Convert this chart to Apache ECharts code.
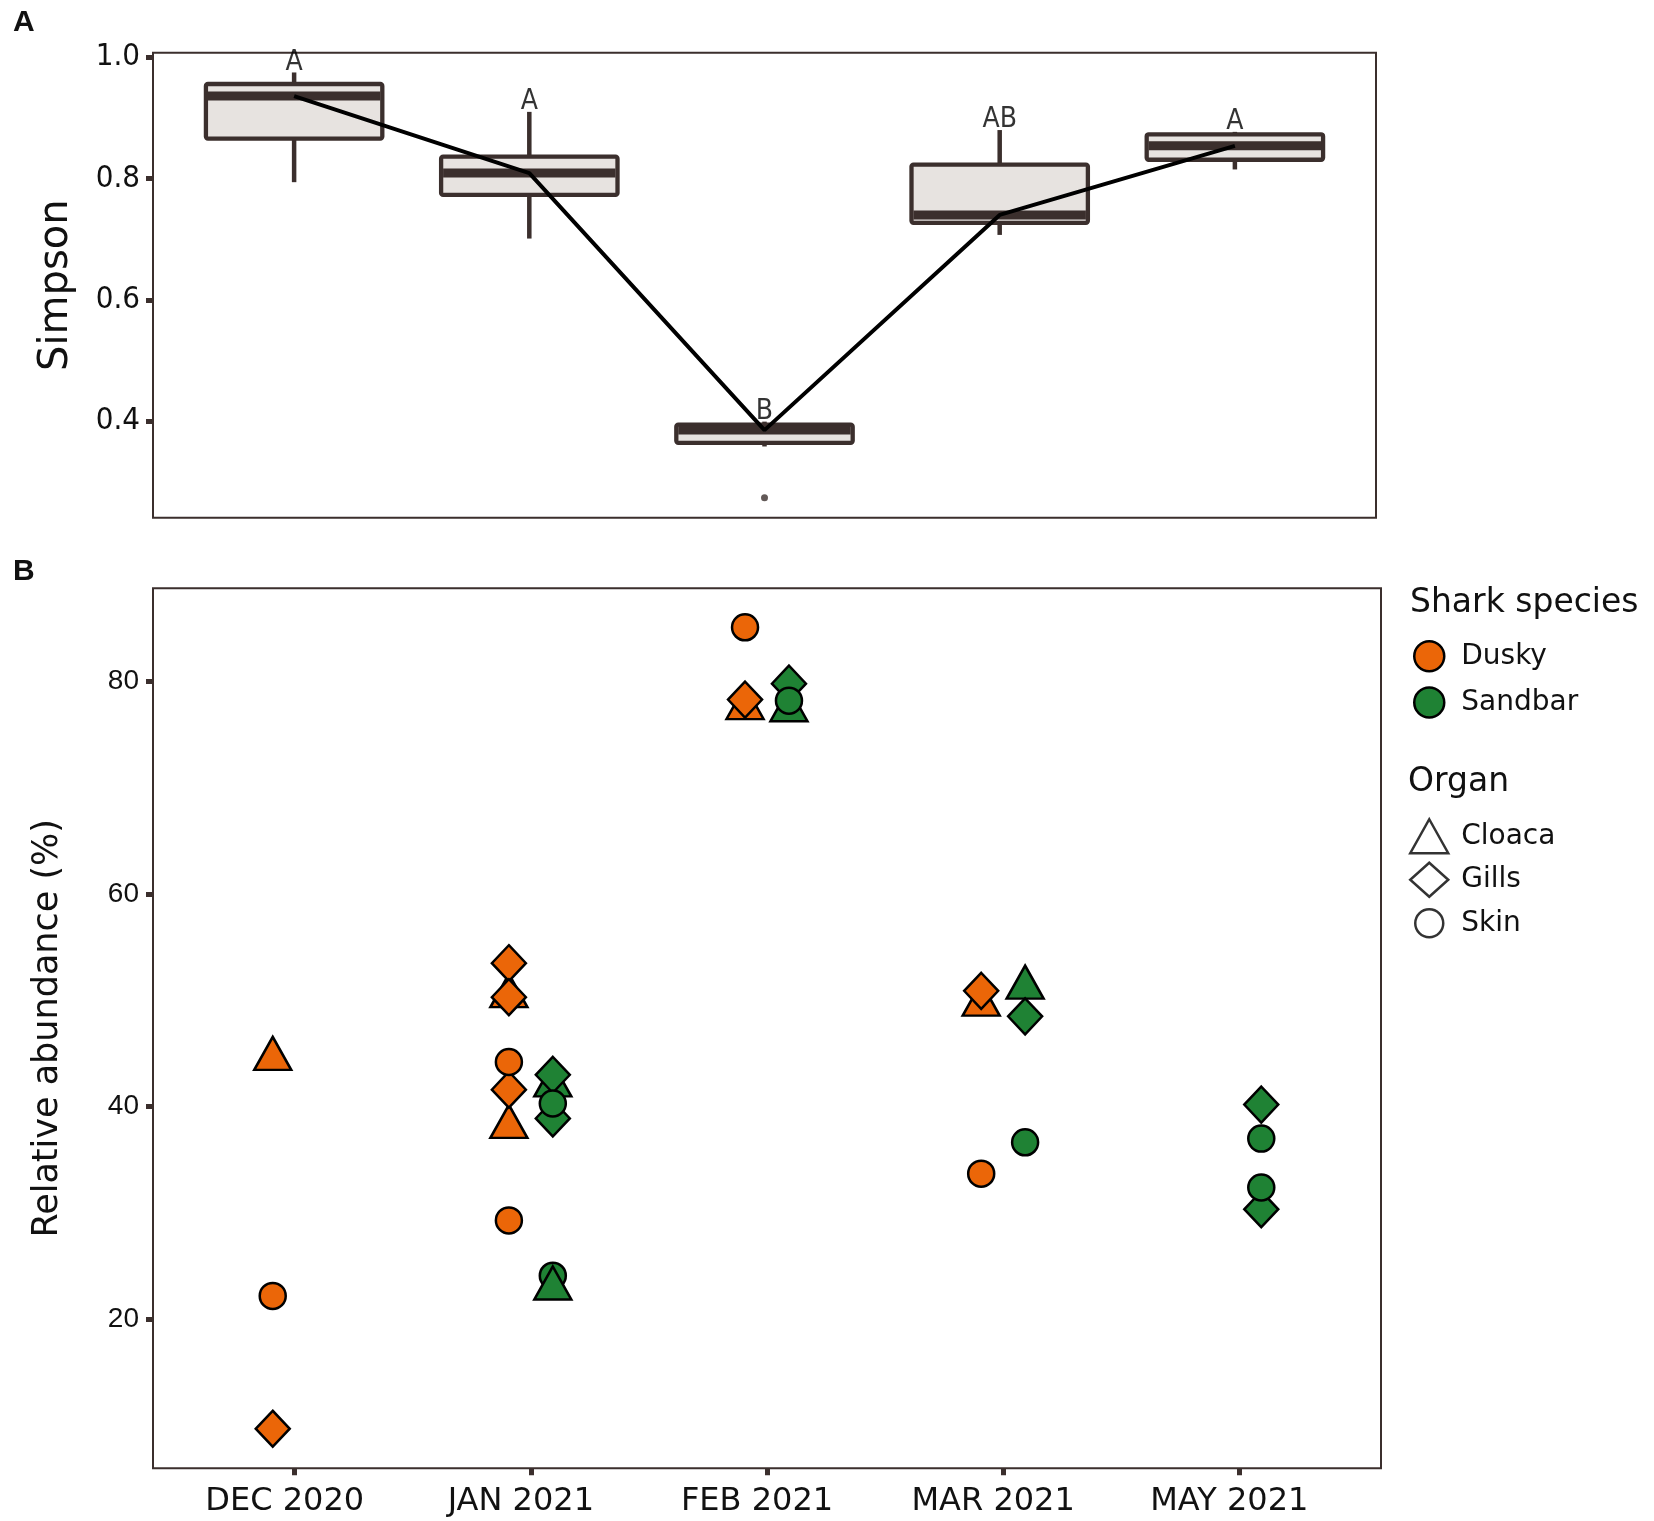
<!DOCTYPE html>
<html>
<head>
<meta charset="utf-8">
<title>Simpson diversity and relative abundance</title>
<script src="https://cdn.jsdelivr.net/npm/echarts@6/dist/echarts.min.js"></script>
<style>
  html, body { margin: 0; padding: 0; background: #fff; }
  #chart { width: 1654px; height: 1521px; }
</style>
</head>
<body>
<div id="chart"></div>
<script>
"use strict";

/* ---------- data ---------- */
const MONTHS = ["DEC 2020", "JAN 2021", "FEB 2021", "MAR 2021", "MAY 2021"];

// panel A: Simpson index box plots
const simpsonLower  = [0.794, 0.701, 0.358, 0.707, 0.815];
const simpsonQ1     = [0.866, 0.773, 0.364, 0.727, 0.831];
const simpsonMedian = [0.936, 0.809, 0.385, 0.740, 0.854];
const simpsonQ3     = [0.956, 0.836, 0.394, 0.823, 0.873];
const simpsonUpper  = [0.975, 0.910, 0.399, 0.880, 0.877];
const simpsonOutliers = [["FEB 2021", 0.2735]];
const simpsonLetters  = ["A", "A", "B", "AB", "A"];

// panel B: relative abundance (%), rows in drawing order [month, organ, value]
const duskyPoints = [
  ["DEC 2020", "Cloaca", 44.5],
  ["JAN 2021", "Cloaca", 50.4],
  ["JAN 2021", "Cloaca", 38.1],
  ["FEB 2021", "Cloaca", 77.5],
  ["MAR 2021", "Cloaca", 49.6],
  ["DEC 2020", "Gills", 9.7],
  ["JAN 2021", "Gills", 53.5],
  ["JAN 2021", "Gills", 50.3],
  ["JAN 2021", "Gills", 41.6],
  ["FEB 2021", "Gills", 78.3],
  ["MAR 2021", "Gills", 50.9],
  ["DEC 2020", "Skin", 22.2],
  ["JAN 2021", "Skin", 44.2],
  ["JAN 2021", "Skin", 29.3],
  ["FEB 2021", "Skin", 85.1],
  ["MAR 2021", "Skin", 33.7]
];
const sandbarPoints = [
  ["JAN 2021", "Cloaca", 42.0],
  ["FEB 2021", "Cloaca", 77.3],
  ["MAR 2021", "Cloaca", 51.2],
  ["JAN 2021", "Gills", 43.0],
  ["JAN 2021", "Gills", 38.9],
  ["FEB 2021", "Gills", 79.8],
  ["MAR 2021", "Gills", 48.5],
  ["MAY 2021", "Gills", 40.2],
  ["MAY 2021", "Gills", 30.35],
  ["JAN 2021", "Skin", 40.3],
  ["JAN 2021", "Skin", 24.1],
  ["FEB 2021", "Skin", 78.2],
  ["MAR 2021", "Skin", 36.65],
  ["MAY 2021", "Skin", 37.0],
  ["MAY 2021", "Skin", 32.4],
  ["JAN 2021", "Cloaca", 22.9]
];

const A_TICKS = [0.4, 0.6, 0.8, 1.0];
const B_TICKS = [20, 40, 60, 80];

/* ---------- style ---------- */
const INK = "#111111";
const FRAME = "#3b2f2d";
const BOX_FILL = "#e7e3e0";
const DUSKY = "#eb6608";
const SANDBAR = "#1f8234";
const VERDANA = "'DejaVu Sans', Verdana, sans-serif";
const ARIAL = "'Liberation Sans', Arial, sans-serif";
const NARROW = "'Liberation Sans Narrow', 'DejaVu Sans Condensed', 'Liberation Sans', sans-serif";
const BOX_WIDTH = 0.75;   // in category units
const DODGE = 0.093;      // species offset in category units
const SHAPES = {
  Cloaca: { symbol: "triangle", size: [37, 33] },
  Gills:  { symbol: "diamond",  size: [34, 36] },
  Skin:   { symbol: "circle",   size: 26 }
};
// legend circle: invisible corner moves keep the drawn circle at point size
const SKIN_LEGEND_ICON = "path://M0,0M38,34M5,17a14,14 0 1,0 28,0a14,14 0 1,0 -28,0z";

const monthIdx = m => MONTHS.indexOf(m);

function pointItems(rows, offset) {
  return rows.map(([m, organ, v]) => {
    const s = SHAPES[organ];
    return {
      value: [monthIdx(m) + offset, v],
      symbol: s.symbol,
      symbolSize: s.size,
      // R draws triangles around their centroid, echarts around the bbox centre
      symbolOffset: organ === "Cloaca" ? [0, -s.size[1] / 6] : [0, 0]
    };
  });
}

function renderBox(params, api) {
  const i = api.value(0);
  const x = api.coord([i, api.value(2)])[0];
  const yLo = api.coord([i, api.value(1)])[1];
  const yQ1 = api.coord([i, api.value(2)])[1];
  const yMed = api.coord([i, api.value(3)])[1];
  const yQ3 = api.coord([i, api.value(4)])[1];
  const yHi = api.coord([i, api.value(5)])[1];
  const half = api.size([BOX_WIDTH, 0])[0] / 2;
  const whisker = { stroke: FRAME, lineWidth: 4.5 };
  return {
    type: "group",
    children: [
      { type: "line", shape: { x1: x, y1: yHi, x2: x, y2: yQ3 }, style: whisker },
      { type: "line", shape: { x1: x, y1: yQ1, x2: x, y2: yLo }, style: whisker },
      { type: "rect", shape: { x: x - half, y: yQ3, width: 2 * half, height: yQ1 - yQ3, r: 2 },
        style: { fill: BOX_FILL, stroke: FRAME, lineWidth: 4.3 } },
      { type: "line", shape: { x1: x - half + 2, y1: yMed, x2: x + half - 2, y2: yMed },
        style: { stroke: FRAME, lineWidth: 9 } }
    ]
  };
}

const tickStyle = { show: true, inside: false, length: 7, lineStyle: { color: FRAME, width: 5 } };
const noLine = { show: false, onZero: false };

const chart = echarts.init(document.getElementById("chart"), null, { renderer: "canvas" });
chart.setOption({
  animation: false,
  backgroundColor: "#fff",
  title: [
    { text: "A", left: 13, top: 8, padding: 0,
      textStyle: { fontFamily: ARIAL, fontWeight: "bold", fontSize: 30, color: INK } },
    { text: "B", left: 13, top: 557, padding: 0,
      textStyle: { fontFamily: ARIAL, fontWeight: "bold", fontSize: 30, color: INK } },
    { text: "Shark species", left: 1410, top: 587, padding: 0,
      textStyle: { fontFamily: VERDANA, fontWeight: "normal", fontSize: 33, color: INK } },
    { text: "Organ", left: 1408, top: 766, padding: 0,
      textStyle: { fontFamily: VERDANA, fontWeight: "normal", fontSize: 33, color: INK } }
  ],
  legend: [
    {
      data: [{ name: "Dusky", icon: "circle" }, { name: "Sandbar", icon: "circle" }],
      orient: "vertical", left: 1413, top: 640, padding: 0,
      itemWidth: 30, itemHeight: 30, itemGap: 13.7,
      itemStyle: { borderColor: "#000", borderWidth: 2.5 },
      textStyle: { fontFamily: VERDANA, fontSize: 28, color: INK, lineHeight: 30, padding: [0, 0, 0, 12] }
    },
    {
      data: [{ name: "Cloaca", icon: "triangle" }, { name: "Gills", icon: "diamond" },
             { name: "Skin", icon: SKIN_LEGEND_ICON }],
      orient: "vertical", left: 1409, top: 818, padding: 0,
      itemWidth: 38, itemHeight: 34, itemGap: 7,
      itemStyle: { color: "#fff", borderColor: "#000", borderWidth: 2.5 },
      textStyle: { fontFamily: VERDANA, fontSize: 28, color: INK, lineHeight: 34, padding: [0, 0, 0, 8] }
    }
  ],
  grid: [
    { left: 153, top: 52.7, width: 1223, height: 465,
      show: true, borderColor: FRAME, borderWidth: 2, backgroundColor: "#fff" },
    { left: 153, top: 588.3, width: 1228, height: 880,
      show: true, borderColor: FRAME, borderWidth: 2, backgroundColor: "#fff" }
  ],
  xAxis: [
    { type: "value", gridIndex: 0, min: -0.6, max: 4.6,
      axisLine: noLine, axisTick: { show: false },
      axisLabel: { show: false }, splitLine: { show: false } },
    { type: "value", gridIndex: 1, min: -0.6, max: 4.6,
      axisLine: noLine, splitLine: { show: false },
      axisTick: Object.assign({ customValues: MONTHS.map((m, i) => i) }, tickStyle),
      axisLabel: { customValues: MONTHS.map((m, i) => i), formatter: v => MONTHS[Math.round(v)],
                   margin: 17, padding: [0, 20, 0, 0],
                   fontFamily: VERDANA, fontSize: 32, color: INK } }
  ],
  yAxis: [
    { type: "value", gridIndex: 0, min: 0.2405, max: 1.0076,
      name: "Simpson", nameLocation: "middle", nameGap: 76,
      nameTextStyle: { fontFamily: VERDANA, fontSize: 40, color: INK },
      axisLine: noLine, splitLine: { show: false },
      axisTick: Object.assign({ customValues: A_TICKS }, tickStyle),
      axisLabel: { customValues: A_TICKS, formatter: v => v.toFixed(1), margin: 13,
                   fontFamily: NARROW, fontSize: 31, color: INK } },
    { type: "value", gridIndex: 1, min: 5.98, max: 88.77,
      name: "Relative abundance (%)", nameLocation: "middle", nameGap: 88,
      nameTextStyle: { fontFamily: VERDANA, fontSize: 35, color: INK },
      axisLine: noLine, splitLine: { show: false },
      axisTick: Object.assign({ customValues: B_TICKS }, tickStyle),
      axisLabel: { customValues: B_TICKS, margin: 14,
                   fontFamily: ARIAL, fontSize: 28, color: INK } }
  ],
  series: [
    {
      type: "custom", name: "box", xAxisIndex: 0, yAxisIndex: 0,
      renderItem: renderBox,
      encode: { x: 0, y: [1, 2, 3, 4, 5] },
      data: MONTHS.map((m, i) => [i, simpsonLower[i], simpsonQ1[i], simpsonMedian[i],
                                  simpsonQ3[i], simpsonUpper[i]]),
      z: 2
    },
    {
      type: "scatter", name: "outlier", xAxisIndex: 0, yAxisIndex: 0,
      symbol: "circle", symbolSize: 7, itemStyle: { color: FRAME },
      data: simpsonOutliers.map(([m, v]) => [monthIdx(m), v]), z: 3
    },
    {
      type: "line", name: "median", xAxisIndex: 0, yAxisIndex: 0,
      showSymbol: false, lineStyle: { color: "#000", width: 4 },
      data: MONTHS.map((m, i) => [i, simpsonMedian[i]]), z: 4
    },
    {
      type: "scatter", name: "letters", xAxisIndex: 0, yAxisIndex: 0,
      symbolSize: 0, silent: true,
      label: { show: true, position: "top", distance: -4, formatter: "{b}",
               fontFamily: NARROW, fontSize: 28, color: "#000" },
      data: MONTHS.map((m, i) => ({ name: simpsonLetters[i], value: [i, simpsonUpper[i]] })),
      z: 5
    },
    {
      type: "scatter", name: "Dusky", xAxisIndex: 1, yAxisIndex: 1,
      itemStyle: { color: DUSKY, borderColor: "#000", borderWidth: 2.5, opacity: 1 },
      data: pointItems(duskyPoints, -DODGE), z: 5
    },
    {
      type: "scatter", name: "Sandbar", xAxisIndex: 1, yAxisIndex: 1,
      itemStyle: { color: SANDBAR, borderColor: "#000", borderWidth: 2.5, opacity: 1 },
      data: pointItems(sandbarPoints, DODGE), z: 5
    },
    // empty series that only feed the Organ legend
    ...["Cloaca", "Gills", "Skin"].map(o => ({
      type: "scatter", name: o, xAxisIndex: 1, yAxisIndex: 1,
      symbol: SHAPES[o].symbol,
      itemStyle: { color: "#fff", borderColor: "#000", borderWidth: 2.5 },
      data: []
    }))
  ]
});
</script>
</body>
</html>
